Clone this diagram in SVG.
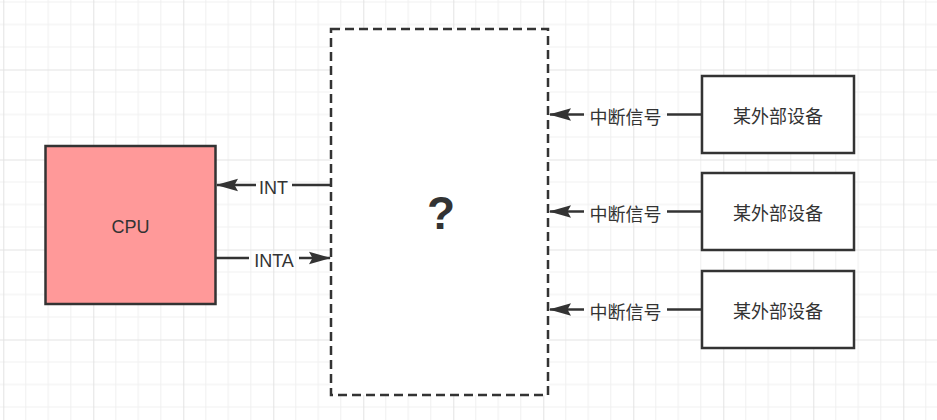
<svg xmlns="http://www.w3.org/2000/svg" width="937" height="420" viewBox="0 0 937 420">
<defs>
<pattern id="grid" patternUnits="userSpaceOnUse" x="3.3" y="-20.5" width="90" height="90">
<rect width="90" height="90" fill="#ffffff"/>
<path d="M22.5 0V90M45 0V90M67.5 0V90M0 22.5H90M0 45H90M0 67.5H90" stroke="#f0f0f0" stroke-width="1" fill="none"/>
<path d="M0.5 0V90M0 0.5H90" stroke="#e3e3e3" stroke-width="1" fill="none"/>
</pattern>
<marker id="arrow" viewBox="0 0 22 14" refX="21" refY="7" markerWidth="22" markerHeight="14" markerUnits="userSpaceOnUse" orient="auto">
<path d="M0 0.8L22 7L0 13.2L3.5 7Z" fill="#333333"/>
</marker>
</defs>
<style>
.box{stroke:#333333;stroke-width:2.5}
.edge{stroke:#333333;stroke-width:2.5;fill:none}
.lbl{font-family:"Liberation Sans","Noto Sans CJK SC",sans-serif;font-size:18px;fill:#333333;text-anchor:middle}
.cjk{font-family:"Noto Sans CJK SC","Liberation Sans",sans-serif;font-size:18px;fill:#333333;text-anchor:middle}
</style>
<rect width="937" height="420" fill="url(#grid)"/>
<g id="cpu">
<rect class="box" x="45.5" y="146" width="170" height="158" fill="#ff9999"/>
<text class="lbl" x="130.5" y="233">CPU</text>
</g>
<g id="controller">
<rect x="331" y="29" width="217" height="366" fill="#ffffff" stroke="#333333" stroke-width="2.5" stroke-dasharray="9 5"/>
<text x="441" y="229" font-family="Liberation Sans,sans-serif" font-size="46" font-weight="bold" fill="#333333" text-anchor="middle">?</text>
</g>
<g id="device1">
<rect class="box" x="702" y="76" width="152" height="77" fill="#ffffff"/>
<text class="cjk" x="778" y="123">某外部设备</text>
</g>
<g id="device2">
<rect class="box" x="702" y="173" width="152" height="77" fill="#ffffff"/>
<text class="cjk" x="778" y="220">某外部设备</text>
</g>
<g id="device3">
<rect class="box" x="702" y="271" width="152" height="77" fill="#ffffff"/>
<text class="cjk" x="778" y="318">某外部设备</text>
</g>
<g id="connectors">
<path class="edge" d="M331 185H292"/>
<path class="edge" d="M256 185H217" marker-end="url(#arrow)"/>
<text class="lbl" x="273.5" y="194">INT</text>
<path class="edge" d="M216 258H249"/>
<path class="edge" d="M299 258H330" marker-end="url(#arrow)"/>
<text class="lbl" x="274" y="267">INTA</text>
<path class="edge" d="M702 114.5H667"/>
<path class="edge" d="M584 114.5H550" marker-end="url(#arrow)"/>
<text class="cjk" x="625.5" y="123.5">中断信号</text>
<path class="edge" d="M702 211.5H667"/>
<path class="edge" d="M584 211.5H550" marker-end="url(#arrow)"/>
<text class="cjk" x="625.5" y="220.5">中断信号</text>
<path class="edge" d="M702 309.5H667"/>
<path class="edge" d="M584 309.5H550" marker-end="url(#arrow)"/>
<text class="cjk" x="625.5" y="318.5">中断信号</text>
</g>
</svg>
